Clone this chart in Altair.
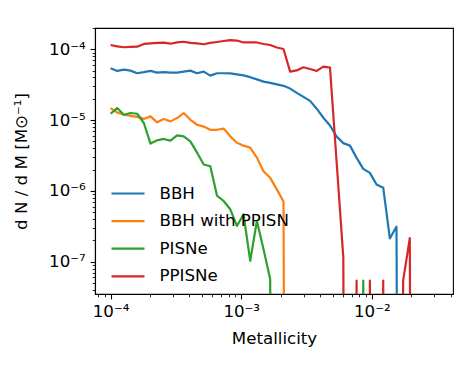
import altair as alt
import pandas as pd

# Metallicity grid (log-spaced bins)
metallicity = [
    1.000e-4, 1.124e-4, 1.264e-4, 1.422e-4, 1.598e-4, 1.797e-4, 2.021e-4, 2.272e-4,
    2.555e-4, 2.873e-4, 3.228e-4, 3.630e-4, 4.082e-4, 4.589e-4, 5.160e-4, 5.802e-4,
    6.524e-4, 7.335e-4, 8.248e-4, 9.274e-4, 1.042e-3, 1.172e-3, 1.318e-3, 1.482e-3,
    1.666e-3, 1.874e-3, 2.107e-3, 2.368e-3, 2.663e-3, 2.994e-3, 3.365e-3, 3.784e-3,
    4.254e-3, 4.783e-3, 5.378e-3, 6.047e-3, 6.799e-3, 7.644e-3, 8.595e-3, 9.663e-3,
    1.086e-2, 1.222e-2, 1.373e-2, 1.544e-2, 1.736e-2, 1.952e-2, 2.195e-2, 2.468e-2,
]

bbh = [
    5.41e-5, 4.95e-5, 5.16e-5, 5.00e-5, 4.59e-5, 4.75e-5, 4.95e-5, 4.69e-5,
    4.75e-5, 4.69e-5, 4.69e-5, 4.84e-5, 5.00e-5, 4.59e-5, 4.84e-5, 4.25e-5,
    4.59e-5, 4.59e-5, 4.57e-5, 4.42e-5, 4.28e-5, 4.04e-5, 3.76e-5, 3.50e-5,
    3.36e-5, 3.20e-5, 3.05e-5, 2.79e-5, 2.43e-5, 2.13e-5, 1.87e-5, 1.45e-5,
    1.08e-5, 8.4e-6, 5.85e-6, 4.73e-6, 4.36e-6, 2.93e-6, 2.05e-6, 1.80e-6,
    1.23e-6, 1.11e-6, 2.13e-7, 3.13e-7, 0, 0, 0, 0,
]

bbh_ppisn = [
    1.48e-5, 1.28e-5, 1.19e-5, 1.15e-5, 1.11e-5, 1.04e-5, 1.13e-5, 9.3e-6,
    1.04e-5, 9.6e-6, 1.07e-5, 1.26e-5, 1.01e-5, 8.6e-6, 8.1e-6, 7.3e-6,
    7.3e-6, 7.6e-6, 5.9e-6, 4.8e-6, 4.36e-6, 4.09e-6, 2.96e-6, 1.90e-6,
    1.53e-6, 1.05e-6, 7.1e-7, 0, 0, 0, 0, 0,
    0, 0, 0, 0, 0, 0, 0, 0,
    0, 0, 0, 0, 0, 0, 0, 0,
]

pisne = [
    1.23e-5, 1.48e-5, 1.19e-5, 1.26e-5, 1.23e-5, 9.1e-6, 4.66e-6, 5.18e-6,
    5.42e-6, 5.13e-6, 6.1e-6, 5.9e-6, 5.0e-6, 3.48e-6, 2.36e-6, 2.23e-6,
    8.6e-7, 7.2e-7, 5.5e-7, 3.2e-7, 4.67e-7, 1.03e-7, 3.76e-7, 1.5e-7,
    5.7e-8, 0, 0, 0, 0, 0, 0, 0,
    0, 0, 0, 0, 0, 0, 5.4e-8, 0,
    0, 0, 0, 0, 0, 0, 0, 0,
]

ppisne = [
    1.15e-4, 1.10e-4, 1.07e-4, 1.08e-4, 1.09e-4, 1.19e-4, 1.21e-4, 1.23e-4,
    1.24e-4, 1.20e-4, 1.25e-4, 1.28e-4, 1.23e-4, 1.21e-4, 1.18e-4, 1.23e-4,
    1.27e-4, 1.31e-4, 1.35e-4, 1.33e-4, 1.25e-4, 1.25e-4, 1.25e-4, 1.19e-4,
    1.15e-4, 1.06e-4, 1.01e-4, 4.84e-5, 5.03e-5, 5.58e-5, 5.28e-5, 4.95e-5,
    5.69e-5, 5.51e-5, 2.52e-6, 1.15e-7, 0, 5.4e-8, 0, 5.4e-8,
    0, 5.4e-8, 0, 0, 5.4e-8, 2.15e-7, 0, 0,
]

series_names = ["BBH", "BBH with PPISN", "PISNe", "PPISNe"]
series_colors = ["#1f77b4", "#ff7f0e", "#2ca02c", "#d62728"]

x_major = [1e-4, 1e-3, 1e-2]
x_labels = ["10\u207b\u2074", "10\u207b\u00b3", "10\u207b\u00b2"]
y_major = [1e-7, 1e-6, 1e-5, 1e-4]
y_labels = ["10\u207b\u2077", "10\u207b\u2076", "10\u207b\u2075", "10\u207b\u2074"]

x_domain = [7.6e-5, 0.0418]
y_domain = [3.5e-8, 2.0e-4]

# zero counts are clipped far below the axis, as matplotlib does on log axes
FLOOR = 1e-30
rows = []
for name, vals in zip(series_names, [bbh, bbh_ppisn, pisne, ppisne]):
    for z, v in zip(metallicity, vals):
        rows.append({"Metallicity": z, "dNdM": v if v > 0 else FLOOR, "series": name})
df = pd.DataFrame(rows)


def log_ticks(lo, hi):
    out = []
    for e in range(-9, 0):
        for m in range(1, 10):
            v = m * 10.0 ** e
            if lo <= v <= hi:
                out.append(v)
    return out


def label_expr(majors, labels):
    s = ""
    for v, lab in zip(majors, labels):
        s += f"abs(datum.value/{v!r} - 1) < 0.001 ? '{lab}' : "
    return s + "''"


major_test = "abs(log(datum.value)/LN10 - round(log(datum.value)/LN10)) < 0.01"
tick_size = {"condition": {"test": major_test, "value": 4.9}, "value": 2.8}
tick_width = {"condition": {"test": major_test, "value": 1.1}, "value": 0.85}

FONT = "DejaVu Sans"
FS = 16.67

common_axis = dict(
    labelFont=FONT, labelFontSize=FS, labelColor="black",
    titleFont=FONT, titleFontSize=FS, titleColor="black", titleFontWeight="normal",
    tickColor="black", domainColor="black", domainWidth=1.1,
    grid=False, labelOverlap=False, labelFlush=False, labelPadding=4.9,
)

x_enc = alt.X(
    "Metallicity:Q",
    scale=alt.Scale(type="log", domain=x_domain, nice=False),
    axis=alt.Axis(
        values=log_ticks(*x_domain), labelExpr=label_expr(x_major, x_labels),
        tickSize=tick_size, tickWidth=tick_width,
        title="Metallicity", titleX=179, titleY=49.4,
        titleBaseline="alphabetic", titleAlign="center",
        **common_axis,
    ),
)

y_enc = alt.Y(
    "dNdM:Q",
    scale=alt.Scale(type="log", domain=y_domain, nice=False),
    axis=alt.Axis(
        values=log_ticks(*y_domain), labelExpr=label_expr(y_major, y_labels),
        tickSize=tick_size, tickWidth=tick_width,
        title="d N / d M [M\u2299\u207b\u00b9]", titleX=-69, titleY=133,
        titleAngle=270, titleBaseline="alphabetic", titleAlign="center",
        **common_axis,
    ),
)

color_enc = alt.Color(
    "series:N",
    scale=alt.Scale(domain=series_names, range=series_colors),
    legend=alt.Legend(
        title=None, orient="none", legendX=23.5, legendY=156,
        symbolType="M-2.0625,0H2.0625", symbolSize=256, symbolStrokeWidth=2.2,
        labelFont=FONT, labelFontSize=FS, labelColor="black",
        labelOffset=22, rowPadding=8.6, padding=0,
    ),
)

chart = (
    alt.Chart(df)
    .mark_line(strokeWidth=2.2, clip=True, strokeJoin="round")
    .encode(x=x_enc, y=y_enc, color=color_enc)
    .properties(
        width=358, height=266,
        autosize=alt.AutoSizeParams(type="none"),
        padding={"left": 87, "top": 20, "right": 6, "bottom": 60},
    )
    .configure_view(stroke="black", strokeWidth=1.1)
)

chart.save("out.html", embed_options={"renderer": "svg", "actions": False})
